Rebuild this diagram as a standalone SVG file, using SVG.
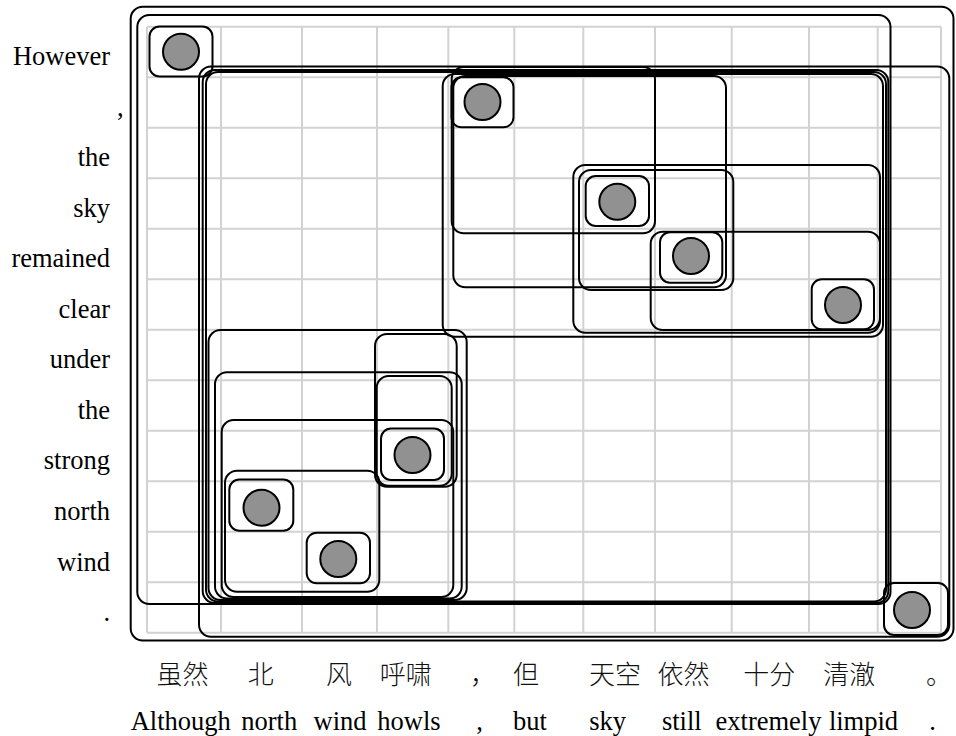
<svg xmlns="http://www.w3.org/2000/svg" width="956" height="736" viewBox="0 0 956 736">
<style>
.grid{fill:none;stroke:#d2d2d2;stroke-width:2}
.span{fill:none;stroke:#000;stroke-width:2}
.nbox{fill:none;stroke:#000;stroke-width:2}
.dot{fill:#919191;stroke:#000;stroke-width:2}
.en{font-family:"Liberation Serif","Times New Roman",serif;font-size:26.5px;fill:#000}
.zh{font-family:"Noto Sans CJK SC","Noto Sans CJK TC",sans-serif;font-size:26px;font-weight:300;fill:#111}
</style>
<rect width="956" height="736" fill="#fff"/>
<g id="grid">
<path class="grid" d="M147 26.7V632.7M221 26.7V632.7M302 26.7V632.7M377 26.7V632.7M448.3 26.7V632.7M514.3 26.7V632.7M583.3 26.7V632.7M655 26.7V632.7M731.7 26.7V632.7M809 26.7V632.7M877.7 26.7V632.7M941 26.7V632.7
M147 26.7H941M147 77.2H941M147 127.7H941M147 178.2H941M147 228.7H941M147 279.2H941M147 329.7H941M147 380.2H941M147 430.7H941M147 481.2H941M147 531.7H941M147 582.2H941M147 632.7H941"/>
</g>
<g id="spans">
<rect id="sA" class="span" x="130.7" y="6.7" width="822.8" height="633.8" rx="12"/>
<rect id="sB" class="span" x="137.3" y="15" width="753.2" height="589" rx="12"/>
<rect id="sD" class="span" x="199" y="66.5" width="750.3" height="570.2" rx="12"/>
<rect id="sC1" class="span" x="202.7" y="70" width="685.6" height="533" rx="12"/>
<rect id="sC2" class="span" x="206" y="72" width="680" height="529.5" rx="12"/>
<rect id="sUR1" class="span" x="442.7" y="74" width="440.3" height="262.7" rx="12"/>
<rect id="sUR2" class="span" x="451.7" y="67" width="203.3" height="166.3" rx="12"/>
<rect id="sUR3" class="span" x="453.3" y="76" width="272.7" height="211.3" rx="12"/>
<rect id="sUR4" class="span" x="573.3" y="165" width="306.7" height="167.7" rx="12"/>
<rect id="sUR5" class="span" x="579" y="170" width="154.3" height="120" rx="12"/>
<rect id="sUR7" class="span" x="650.7" y="231.7" width="229.3" height="98.3" rx="12"/>
<rect id="sLL1" class="span" x="208.5" y="330" width="258.2" height="270" rx="12"/>
<rect id="sLL5" class="span" x="375" y="334" width="81.7" height="152.7" rx="12"/>
<rect id="sLL2" class="span" x="215" y="372.3" width="246.7" height="226.2" rx="12"/>
<rect id="sLL6" class="span" x="376.7" y="376" width="75" height="109.7" rx="12"/>
<rect id="sLL3" class="span" x="221.7" y="420" width="231.6" height="177" rx="12"/>
<rect id="sLL4" class="span" x="225" y="470.7" width="154.3" height="121" rx="12"/>
</g>
<g id="n1"><rect class="nbox" x="149.5" y="26.5" width="63" height="50" rx="10"/><circle class="dot" cx="181" cy="51.7" r="18"/></g>
<g id="n2"><rect class="nbox" x="451.5" y="77.3" width="62" height="50" rx="10"/><circle class="dot" cx="482.5" cy="102" r="18"/></g>
<g id="n3"><rect class="nbox" x="585.7" y="176" width="63.3" height="50" rx="10"/><circle class="dot" cx="617.3" cy="201.7" r="18"/></g>
<g id="n4"><rect class="nbox" x="660" y="232.3" width="62.3" height="50.4" rx="10"/><circle class="dot" cx="691" cy="256" r="18"/></g>
<g id="n5"><rect class="nbox" x="811.7" y="279.3" width="62.3" height="50" rx="10"/><circle class="dot" cx="843" cy="305" r="18"/></g>
<g id="n6"><rect class="nbox" x="381" y="428.5" width="63" height="51.5" rx="10"/><circle class="dot" cx="412.5" cy="455" r="18"/></g>
<g id="n7"><rect class="nbox" x="229.3" y="479.5" width="64" height="51.2" rx="10"/><circle class="dot" cx="261.5" cy="507.7" r="18"/></g>
<g id="n8"><rect class="nbox" x="306.7" y="532.7" width="63.3" height="50.6" rx="10"/><circle class="dot" cx="338.3" cy="559" r="18"/></g>
<g id="n9"><rect class="nbox" x="884" y="583" width="64" height="52" rx="10"/><circle class="dot" cx="912" cy="610" r="18"/></g>
<g id="rows" class="en" text-anchor="end">
<text x="110" y="65">However</text>
<text x="117" y="115.6" text-anchor="start">,</text>
<text x="110" y="166.1">the</text>
<text x="110" y="216.7">sky</text>
<text x="110" y="267.2">remained</text>
<text x="110" y="317.8">clear</text>
<text x="110" y="368.3">under</text>
<text x="110" y="418.9">the</text>
<text x="110" y="469.4">strong</text>
<text x="110" y="520">north</text>
<text x="110" y="570.5">wind</text>
<text x="110" y="621">.</text>
</g>
<g id="cols-zh" class="zh" text-anchor="middle">
<text x="182.5" y="684">虽然</text>
<text x="260.8" y="684">北</text>
<text x="339" y="684">风</text>
<text x="405.8" y="684">呼啸</text>
<text x="483" y="684">，</text>
<text x="526" y="684">但</text>
<text x="615" y="684">天空</text>
<text x="683.5" y="684">依然</text>
<text x="769.3" y="684">十分</text>
<text x="849.3" y="684">清澈</text>
<text x="939" y="684">。</text>
</g>
<g id="cols-en" class="en" text-anchor="middle">
<text x="180.8" y="730">Although</text>
<text x="269.2" y="730">north</text>
<text x="340" y="730">wind</text>
<text x="409" y="730">howls</text>
<text x="479.5" y="730">,</text>
<text x="530" y="730">but</text>
<text x="607.7" y="730">sky</text>
<text x="681.8" y="730">still</text>
<text x="768.5" y="730">extremely</text>
<text x="863.5" y="730">limpid</text>
<text x="932.5" y="730">.</text>
</g>
</svg>
